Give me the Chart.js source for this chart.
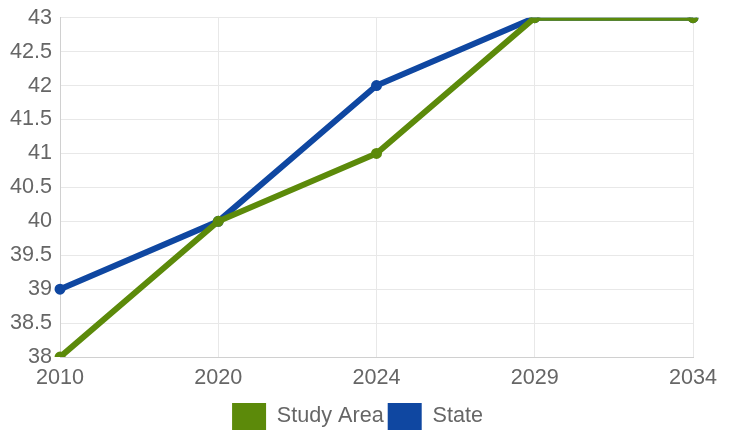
<!DOCTYPE html>
<html>
<head>
<meta charset="utf-8">
<script src="https://cdn.jsdelivr.net/npm/chart.js@4"></script>
<style>
html,body{margin:0;padding:0;background:#fff;}
#wrap{width:733px;height:431px;position:relative;}
</style>
</head>
<body>
<div id="wrap"><canvas id="c"></canvas></div>
<script>
const categories = ["2010", "2020", "2024", "2029", "2034"];
const studyArea = [38, 40, 41, 43, 43];
const state = [39, 40, 42, 43, 43];

Chart.defaults.font.family = "'Liberation Sans', Arial, sans-serif";
Chart.defaults.font.size = 21.6;
Chart.defaults.color = "#666";

new Chart(document.getElementById("c"), {
  type: "line",
  data: {
    labels: categories,
    datasets: [
      {label: "Study Area", data: studyArea, borderColor: "#5c8a0a", backgroundColor: "#5c8a0a",
       borderWidth: 6, pointRadius: 4, pointBorderWidth: 3, pointHoverRadius: 4, tension: 0, fill: false},
      {label: "State", data: state, borderColor: "#0f47a1", backgroundColor: "#0f47a1",
       borderWidth: 6, pointRadius: 4, pointBorderWidth: 3, pointHoverRadius: 4, tension: 0, fill: false}
    ]
  },
  options: {
    responsive: true,
    maintainAspectRatio: false,
    animation: false,
    layout: {padding: {top: 0, right: 20, left: 2, bottom: -9}},
    plugins: {
      legend: {
        position: "bottom",
        labels: {
          boxWidth: 34, boxHeight: 27, padding: 4,
          generateLabels(chart) {
            return Chart.defaults.plugins.legend.labels.generateLabels(chart).map(l => Object.assign(l, {lineWidth: 0}));
          }
        }
      },
      tooltip: {enabled: false}
    },
    scales: {
      x: {
        grid: {color: "#e8e8e8", drawTicks: false},
        border: {color: "#d0d0d0"},
        ticks: {padding: 8, maxRotation: 0},
        afterFit(s) { s.paddingRight = 40; }
      },
      y: {
        min: 38, max: 43,
        grid: {color: "#e8e8e8", drawTicks: false},
        border: {color: "#d0d0d0"},
        ticks: {stepSize: 0.5, padding: 8, font: {lineHeight: 0.9}, callback: v => String(v)}
      }
    }
  }
});
</script>
</body>
</html>
